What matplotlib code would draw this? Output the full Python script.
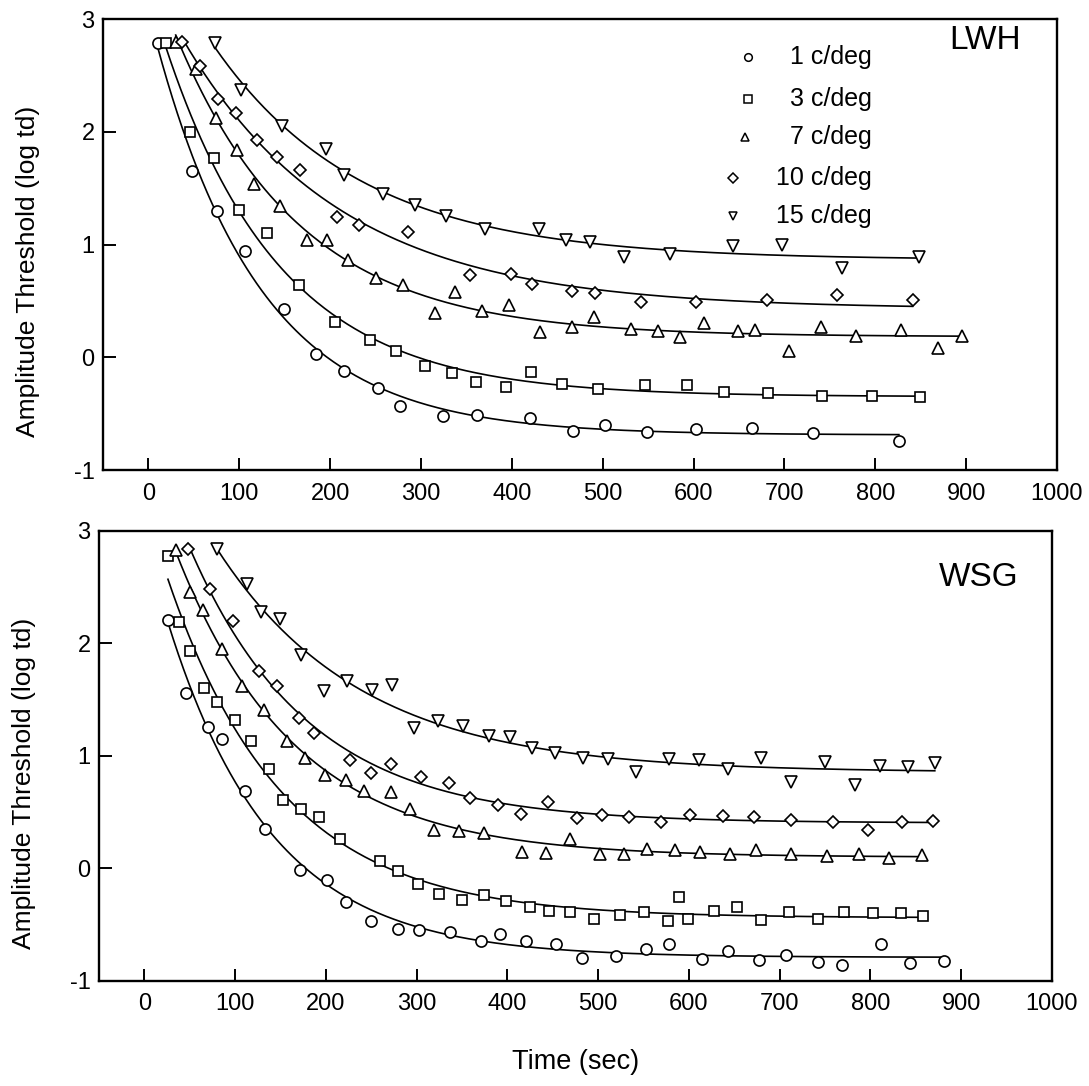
import numpy as np
import matplotlib
matplotlib.use("Agg")
import matplotlib.pyplot as plt

plt.rcParams['font.family'] = ['Liberation Sans', 'DejaVu Sans']
plt.rcParams['axes.unicode_minus'] = False

labels = ['1 c/deg', '3 c/deg', '7 c/deg', '10 c/deg', '15 c/deg']
markers = ['o', 's', '^', 'D', 'v']
msizes = [8, 7, 8.5, 6.5, 8.5]

# observer LWH (top panel)
lwh_1_x = [10, 48, 75, 106, 149, 184, 215, 253, 277, 324, 362, 420, 467, 502, 549, 603, 664, 731, 826]
lwh_1_y = [2.79, 1.65, 1.30, 0.94, 0.43, 0.03, -0.12, -0.27, -0.43, -0.52, -0.51, -0.54, -0.655, -0.60,
           -0.66, -0.64, -0.63, -0.67, -0.74]
lwh_3_x = [19, 46, 72, 100, 130, 166, 205, 244, 273, 304, 334, 361, 394, 421, 455, 495, 546, 593, 633,
           682, 741, 796, 849]
lwh_3_y = [2.79, 2.0, 1.77, 1.31, 1.10, 0.64, 0.31, 0.155, 0.06, -0.08, -0.14, -0.22, -0.265, -0.13,
           -0.24, -0.28, -0.25, -0.25, -0.31, -0.32, -0.345, -0.345, -0.35]
lwh_7_x = [30, 52, 74, 98, 116, 145, 174, 197, 220, 250, 280, 315, 337, 367, 397, 431, 466, 490, 531,
           561, 585, 611, 649, 668, 705, 740, 779, 828, 869, 895]
lwh_7_y = [2.80, 2.56, 2.12, 1.84, 1.54, 1.34, 1.04, 1.04, 0.86, 0.70, 0.64, 0.39, 0.58, 0.41, 0.46,
           0.22, 0.27, 0.36, 0.25, 0.235, 0.18, 0.30, 0.235, 0.245, 0.06, 0.27, 0.19, 0.24, 0.08, 0.19]
lwh_10_x = [37, 57, 77, 96, 120, 142, 167, 208, 232, 286, 354, 399, 422, 466, 491, 542, 603, 681, 758, 841]
lwh_10_y = [2.80, 2.58, 2.29, 2.17, 1.93, 1.78, 1.66, 1.24, 1.17, 1.115, 0.73, 0.74, 0.65, 0.59, 0.57,
            0.49, 0.49, 0.51, 0.55, 0.51]
lwh_15_x = [73, 102, 147, 195, 215, 258, 293, 328, 370, 430, 460, 486, 523, 574, 643, 697, 763, 848]
lwh_15_y = [2.79, 2.37, 2.05, 1.85, 1.62, 1.45, 1.35, 1.25, 1.14, 1.14, 1.04, 1.02, 0.89, 0.92, 0.99,
            1.00, 0.79, 0.885]

# observer WSG (bottom panel)
wsg_1_x = [26, 46, 70, 85, 111, 133, 172, 201, 222, 250, 280, 303, 337, 371, 392, 421, 454, 482, 520,
           553, 578, 615, 643, 677, 707, 742, 769, 812, 844, 881]
wsg_1_y = [2.21, 1.56, 1.26, 1.155, 0.69, 0.35, -0.01, -0.10, -0.30, -0.47, -0.54, -0.55, -0.565, -0.645,
           -0.58, -0.645, -0.675, -0.795, -0.78, -0.72, -0.67, -0.805, -0.73, -0.81, -0.77, -0.83, -0.86,
           -0.67, -0.84, -0.82]
wsg_3_x = [26, 38, 50, 66, 80, 100, 118, 137, 153, 173, 192, 216, 260, 280, 302, 325, 350, 374, 398, 425,
           446, 469, 496, 524, 551, 577, 589, 599, 628, 653, 680, 710, 742, 771, 803, 834, 858]
wsg_3_y = [2.78, 2.19, 1.93, 1.60, 1.48, 1.32, 1.13, 0.88, 0.61, 0.53, 0.455, 0.26, 0.07, -0.02, -0.14,
           -0.23, -0.28, -0.235, -0.29, -0.34, -0.38, -0.39, -0.45, -0.415, -0.39, -0.47, -0.25, -0.45,
           -0.38, -0.34, -0.46, -0.385, -0.45, -0.385, -0.40, -0.40, -0.42]
wsg_7_x = [35, 50, 65, 85, 108, 132, 157, 177, 199, 222, 242, 272, 293, 319, 347, 374, 416, 443, 469, 502,
           529, 554, 585, 612, 645, 674, 713, 752, 788, 820, 857]
wsg_7_y = [2.83, 2.46, 2.30, 1.955, 1.625, 1.41, 1.13, 0.98, 0.83, 0.79, 0.69, 0.68, 0.525, 0.345, 0.335,
           0.315, 0.146, 0.14, 0.26, 0.125, 0.13, 0.17, 0.16, 0.15, 0.13, 0.16, 0.125, 0.107, 0.125, 0.095,
           0.117]
wsg_10_x = [48, 72, 98, 126, 146, 170, 187, 227, 250, 272, 305, 336, 359, 390, 415, 445, 477, 504, 534,
            569, 601, 638, 672, 713, 759, 797, 835, 869]
wsg_10_y = [2.84, 2.48, 2.20, 1.755, 1.62, 1.34, 1.20, 0.965, 0.85, 0.925, 0.81, 0.76, 0.63, 0.565, 0.485,
            0.59, 0.445, 0.475, 0.46, 0.41, 0.475, 0.47, 0.46, 0.43, 0.415, 0.345, 0.41, 0.42]
wsg_15_x = [80, 113, 128, 150, 173, 198, 223, 251, 273, 297, 324, 351, 380, 403, 427, 453, 483, 511, 542,
            578, 611, 643, 679, 713, 750, 783, 811, 841, 871]
wsg_15_y = [2.84, 2.53, 2.28, 2.22, 1.90, 1.58, 1.67, 1.59, 1.63, 1.25, 1.31, 1.27, 1.18, 1.17, 1.07, 1.03,
            0.98, 0.97, 0.855, 0.975, 0.96, 0.88, 0.98, 0.77, 0.95, 0.74, 0.91, 0.90, 0.94]

xticks = list(range(0, 1001, 100))
yticks = [-1, 0, 1, 2, 3]


def fit_curve(x, y):
    # exponential decay to a plateau, least squares over a grid of time constants
    x = np.asarray(x, float)
    y = np.asarray(y, float)
    best = None
    for tau in np.linspace(10, 500, 981):
        A = np.column_stack([np.ones_like(x), np.exp(-x / tau)])
        coef = np.linalg.lstsq(A, y, rcond=None)[0]
        err = np.sum((A @ coef - y) ** 2)
        if best is None or err < best[0]:
            best = (err, tau, coef)
    _, tau, (a, b) = best
    xs = np.linspace(x.min(), x.max(), 300)
    return xs, a + b * np.exp(-xs / tau)


def style_axes(ax):
    ax.set_xlim(-50, 1000)
    ax.set_ylim(-1, 3)
    ax.set_xticks(xticks)
    ax.set_yticks(yticks)
    ax.tick_params(direction='in', length=9, width=1.4, labelsize=17)
    ax.tick_params(axis='x', pad=9)
    ax.tick_params(axis='y', pad=6)
    for s in ax.spines.values():
        s.set_linewidth(1.7)
    ax.set_ylabel('Amplitude Threshold (log td)', fontsize=19)
    ax.yaxis.set_label_coords(-0.066, 0.44)


def draw_panel(ax, series):
    for (x, y), m, ms in zip(series, markers, msizes):
        ax.plot(x, y, linestyle='none', marker=m, ms=ms, mfc='white', mec='black', mew=1.2, zorder=3)
        xs, ys = fit_curve(x, y)
        ax.plot(xs, ys, color='black', lw=1.2, zorder=2)


fig = plt.figure(figsize=(10.89, 10.86), dpi=100)
ax1 = fig.add_axes([0.0946, 0.5672, 0.876, 0.4153])
ax2 = fig.add_axes([0.0909, 0.0967, 0.875, 0.4144])

draw_panel(ax1, [(lwh_1_x, lwh_1_y), (lwh_3_x, lwh_3_y), (lwh_7_x, lwh_7_y),
                 (lwh_10_x, lwh_10_y), (lwh_15_x, lwh_15_y)])
draw_panel(ax2, [(wsg_1_x, wsg_1_y), (wsg_3_x, wsg_3_y), (wsg_7_x, wsg_7_y),
                 (wsg_10_x, wsg_10_y), (wsg_15_x, wsg_15_y)])

style_axes(ax1)
style_axes(ax2)

# legend drawn by hand: small symbols, right aligned text
leg_mx = [0.676, 0.676, 0.673, 0.660, 0.660]
leg_y = [0.916, 0.822, 0.738, 0.648, 0.563]
for lab, m, mx, ly in zip(labels, markers, leg_mx, leg_y):
    ax1.plot([mx], [ly], marker=m, ms=5.5, mfc='white', mec='black', mew=1.1,
             transform=ax1.transAxes, clip_on=False)
    ax1.text(0.806, ly, lab, transform=ax1.transAxes, ha='right', va='center', fontsize=18)

ax1.text(0.925, 0.953, 'LWH', transform=ax1.transAxes, ha='center', va='center', fontsize=24)
ax2.text(0.923, 0.896, 'WSG', transform=ax2.transAxes, ha='center', va='center', fontsize=24)

ax2.set_xlabel('Time (sec)', fontsize=19.5, labelpad=24)

fig.savefig('out.png', dpi=100)
